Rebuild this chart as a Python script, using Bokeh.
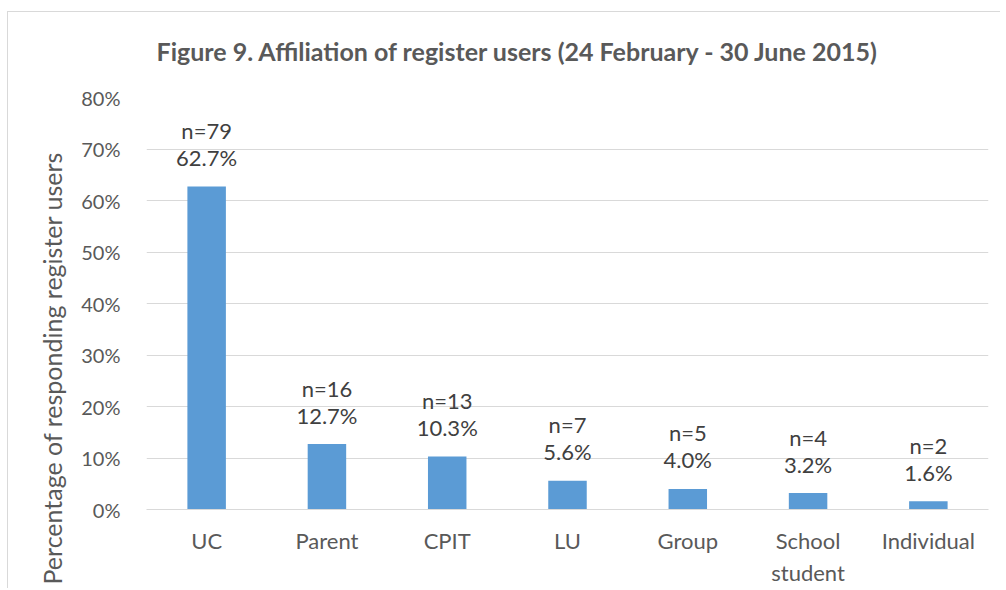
from bokeh.plotting import figure
from bokeh.models import FactorRange, Range1d, ColumnDataSource, FixedTicker, Title
from bokeh.core.properties import value
from bokeh.embed import file_html
from bokeh.resources import INLINE

categories = ["UC", "Parent", "CPIT", "LU", "Group", "School\nstudent", "Individual"]
counts = [79, 16, 13, 7, 5, 4, 2]
percents = [62.7, 12.7, 10.3, 5.6, 4.0, 3.2, 1.6]
y_ticks = [0, 10, 20, 30, 40, 50, 60, 70, 80]
title_text = "Figure 9. Affiliation of register users (24 February - 30 June 2015)"
y_title = "Percentage of responding register users"

FONT = "Lato"
GRAY = "#595959"
DARK = "#404040"

src = ColumnDataSource(dict(
    cat=categories,
    pct=percents,
    ntxt=["n=%d" % n for n in counts],
    ptxt=["%.1f%%" % v for v in percents],
))

p = figure(width=1000, height=588, output_backend="svg", toolbar_location=None,
           x_range=FactorRange(*categories, range_padding=0), y_range=Range1d(0, 80),
           min_border_left=146, min_border_right=12, min_border_top=97, min_border_bottom=78)
p.styles = {"box-shadow": "inset 7px 11px 0 0 #ffffff, inset 8px 12px 0 0 #d9d9d9"}
p.outline_line_color = None
p.background_fill_color = "white"
p.border_fill_color = None

p.vbar(x="cat", top="pct", width=0.32, source=src, color="#5b9bd5", line_color=None)

p.text(x="cat", y="pct", text="ptxt", source=src, y_offset=-29, text_align="center",
       text_baseline="middle", text_font=value(FONT), text_font_size="22px", text_color=DARK)
p.text(x="cat", y="pct", text="ntxt", source=src, y_offset=-56, text_align="center",
       text_baseline="middle", text_font=value(FONT), text_font_size="22px", text_color=DARK)

p.xgrid.grid_line_color = None
p.ygrid.grid_line_color = "#d9d9d9"
p.ygrid.grid_line_width = 1

p.yaxis.ticker = FixedTicker(ticks=y_ticks)
p.yaxis.major_label_overrides = {t: "%d%%" % t for t in y_ticks}
p.yaxis.axis_line_color = None
p.yaxis.major_tick_line_color = None
p.yaxis.minor_tick_line_color = None
p.yaxis.major_label_standoff = 20
p.yaxis.major_label_text_font = FONT
p.yaxis.major_label_text_font_size = "20px"
p.yaxis.major_label_text_color = GRAY

p.xaxis.axis_line_color = "#d9d9d9"
p.xaxis.major_tick_line_color = None
p.xaxis.minor_tick_line_color = None
p.xaxis.major_label_standoff = 11
p.xaxis.major_label_text_font = FONT
p.xaxis.major_label_text_font_size = "22px"
p.xaxis.major_label_text_color = GRAY

p.title.text = title_text
p.title.align = "left"
p.title.offset = 10
p.title.standoff = 64
p.title.text_font = FONT
p.title.text_font_size = "25px"
p.title.text_font_style = "bold"
p.title.text_color = GRAY

p.add_layout(Title(text=y_title, align="left", offset=-75, standoff=24,
                   text_font=FONT, text_font_size="25px", text_font_style="normal",
                   text_color=GRAY), "left")

open("out.html", "w").write(file_html(p, INLINE))
